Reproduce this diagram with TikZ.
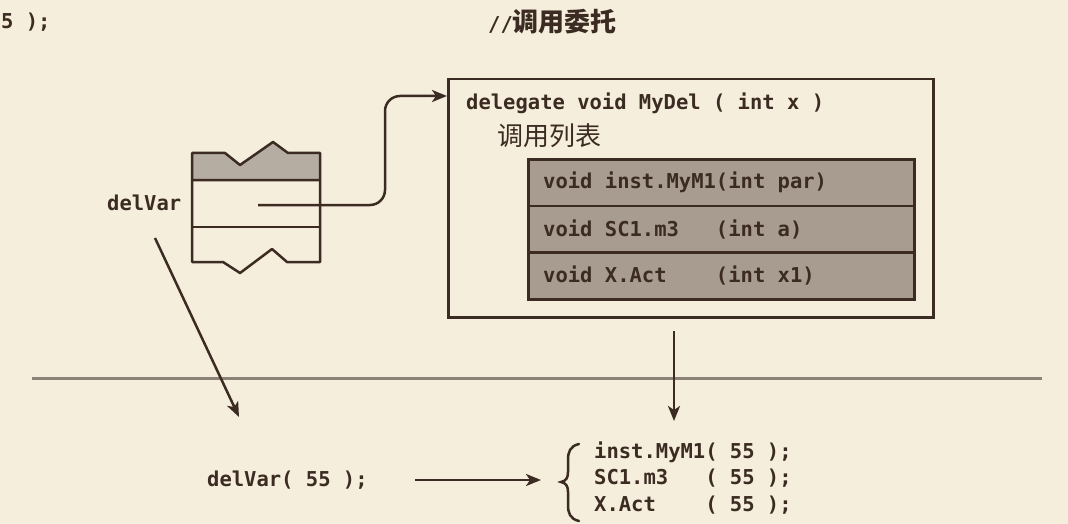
\documentclass[tikz,border=0pt]{standalone}
\usepackage{fontspec}
\setmonofont{DejaVu Sans Mono}
\newfontfamily\cjk{Noto Sans CJK SC}
\usetikzlibrary{arrows.meta}
\definecolor{bg}{HTML}{F5EEDC}
\definecolor{ink}{HTML}{3B2B22}
\definecolor{rowfill}{HTML}{A89C90}
\definecolor{band}{HTML}{B5ACA2}
\definecolor{rule}{HTML}{8C8279}
\tikzset{
  code/.style={font=\ttfamily\bfseries\fontsize{20.5}{24}\selectfont, text=ink, inner sep=0pt, anchor=west},
  cjktext/.style={font=\cjk\fontsize{26}{30}\selectfont, text=ink, inner sep=0pt, anchor=west},
  ln/.style={draw=ink, line width=2.5pt},
  arr/.style={ln, -{Stealth[length=15pt,width=12pt,inset=4pt]}},
  rowbox/.style={draw=ink, line width=2.5pt, fill=rowfill, minimum width=386pt, minimum height=46.7pt, anchor=north west, inner sep=0pt},
  outerbox/.style={draw=ink, line width=2.5pt, minimum width=485pt, minimum height=238pt, anchor=north west, inner sep=0pt}
}
\begin{document}
\begin{tikzpicture}[x=1pt,y=-1pt]
\fill[bg] (0,0) rectangle (1068,524);
\useasboundingbox (0,0) rectangle (1068,524);

% top texts
\node[code] (prev) at (1,22) {5 );};
\node[code] (cmt) at (488,22) {//{\cjk\bfseries\fontsize{26}{28}\selectfont 调用委托}};

% outer delegate box
\node[outerbox] (outer) at (447,78) {};
\node[code] (decl) at (466,103) {delegate void MyDel ( int x )};
\node[cjktext] (lst) at (497,136) {调用列表};

% invocation list rows
\node[rowbox] (r1) at (527,158) {};
\node[rowbox] (r2) at (527,204.7) {};
\node[rowbox] (r3) at (527,251.4) {};
\node[code] (t1) at ([xshift=16pt]r1.west) {void inst.MyM1(int par)};
\node[code] (t2) at ([xshift=16pt]r2.west) {void SC1.m3\ \ \ (int a)};
\node[code] (t3) at ([xshift=16pt]r3.west) {void X.Act\ \ \ \ (int x1)};

% delegate variable stack
\filldraw[fill=band, draw=ink, line width=2.5pt, line join=round]
  (192,180) -- (192,153) -- (225,153) -- (240,165) -- (273,142) -- (288,153) -- (320,153) -- (320,180) -- cycle;
\draw[ln, line join=round]
  (192,180) -- (192,262) -- (223,262) -- (240,273) -- (272,249) -- (287,262) -- (320,262) -- (320,180);
\draw[ln] (192,227) -- (320,227);
\coordinate (sp) at (258,205);
\node[code] (dv) at (107,203) {delVar};

% reference to delegate object
\draw[arr, rounded corners=15pt] (sp) -- (385,205) -- (385,96) -- ([yshift=-18pt]outer.north west);

% separator rule
\draw[draw=rule, line width=3pt] (32,378) -- (1042,378);

% arrows into bottom part
\coordinate (dvs) at (155,238);
\coordinate (dve) at (239,417);
\draw[arr] (dvs) -- (dve);
\coordinate (os) at (674,331);
\coordinate (oe) at (674,421);
\draw[arr] (os) -- (oe);

% bottom: invocation
\node[code] (call) at (207,480) {delVar( 55 );};
\coordinate (cs) at (415,480);
\coordinate (ce) at (541,480);
\draw[arr] (cs) -- (ce);

% brace
\draw[ln, line cap=round] (579,444) .. controls (570,446) and (568,452) .. (568,460)
  -- (568,472) .. controls (568,478) and (566,481) .. (561,482)
  .. controls (566,483) and (568,486) .. (568,492)
  -- (568,505) .. controls (568,513) and (570,519) .. (579,521);

\node[code] (c1) at (594,452) {inst.MyM1( 55 );};
\node[code] (c2) at (594,478) {SC1.m3\ \ \ ( 55 );};
\node[code] (c3) at (594,505) {X.Act\ \ \ \ ( 55 );};
\end{tikzpicture}
\end{document}
